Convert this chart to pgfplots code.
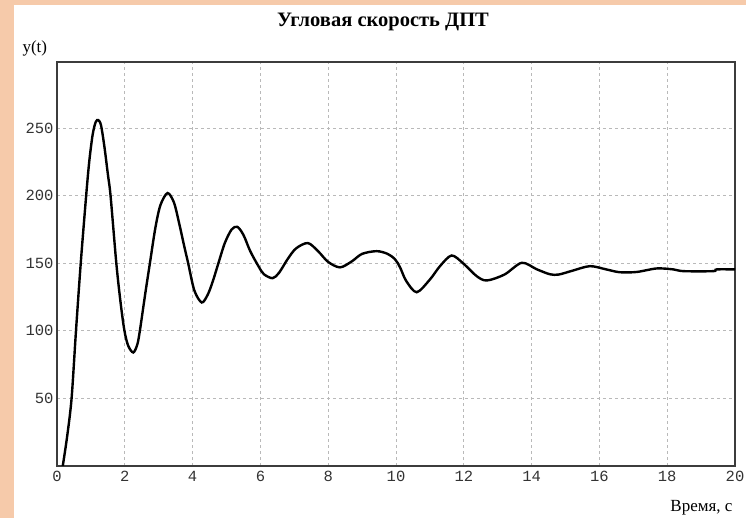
\documentclass[border=0pt]{standalone}
\usepackage{fontspec}
\setmainfont{Liberation Serif}
\setmonofont{Liberation Mono}
\usepackage{pgfplots}
\pgfplotsset{compat=1.18}
\definecolor{peach}{RGB}{246,202,170}
\definecolor{gridgray}{RGB}{185,185,185}
\definecolor{framegray}{RGB}{60,60,60}
\begin{document}
\begin{tikzpicture}[x=1pt,y=1pt]
% page background with a coloured margin on the left and top
\fill[peach] (0,0) rectangle (746,518);
\fill[white] (14,0) rectangle (746,513);
\path[use as bounding box] (0,0) rectangle (746,518);
\begin{axis}[
  at={(57pt,52pt)}, anchor=south west,
  scale only axis, width=678pt, height=404pt,
  xmin=0, xmax=20, ymin=0, ymax=299,
  xtick={0,2,...,20}, ytick={50,100,...,250},
  grid=major,
  major grid style={gridgray, dash pattern=on 3pt off 3pt, line width=0.8pt},
  axis line style={framegray, line width=1.3pt},
  major tick length=0pt,
  tick label style={font=\ttfamily\fontsize{15.5}{15.5}\selectfont, text=black!80},
  /pgf/number format/assume math mode=true,
  xticklabel style={yshift=-2pt},
  yticklabel style={xshift=0pt},
  clip=true,
]
\addplot[black, line width=2.4pt, smooth, tension=0.5] coordinates {
(0.17,0) (0.3,22) (0.43,50) (0.56,100) (0.70,150) (0.86,200) (0.95,225)
(1.05,245) (1.14,254.5) (1.22,256) (1.3,252) (1.4,236) (1.5,216)
(1.58,200) (1.75,150) (1.88,120) (1.99,100) (2.1,89) (2.25,84)
(2.37,90) (2.45,101) (2.6,127) (2.74,150) (2.9,176) (3.05,193)
(3.26,202) (3.45,195) (3.6,180) (3.75,163) (3.87,150) (4.05,130)
(4.27,121) (4.45,127) (4.6,137) (4.76,150) (4.95,165) (5.15,175)
(5.32,177) (5.5,171) (5.7,159) (5.94,148) (6.1,142) (6.36,139)
(6.55,143) (6.8,153) (7.05,161) (7.4,165) (7.7,159) (8.0,151)
(8.35,147) (8.7,151.5) (9.0,157) (9.43,159) (9.75,157) (9.97,153)
(10.12,147) (10.3,137) (10.61,128.6) (11.0,138) (11.3,148)
(11.64,155.8) (11.98,150) (12.38,140.5) (12.68,137.3) (13.2,141.7)
(13.71,150.4) (14.15,145.6) (14.54,141.9) (14.8,141.7) (15.2,144.5)
(15.72,147.9) (16.2,145.5) (16.6,143.4) (17.1,143.6) (17.69,146.2)
(18.18,145.5) (18.48,144.2) (19.36,144.2) (19.46,145.5) (20,145.5)
};
\end{axis}
\node[font=\bfseries\fontsize{20.5}{20.5}\selectfont] at (383,496) {Угловая скорость ДПТ};
\node[font=\fontsize{17}{17}\selectfont, anchor=base west] at (19,465) {y(t)};
\node[font=\fontsize{17}{17}\selectfont, anchor=base east] at (736,6) {Время, с};
\end{tikzpicture}
\end{document}
